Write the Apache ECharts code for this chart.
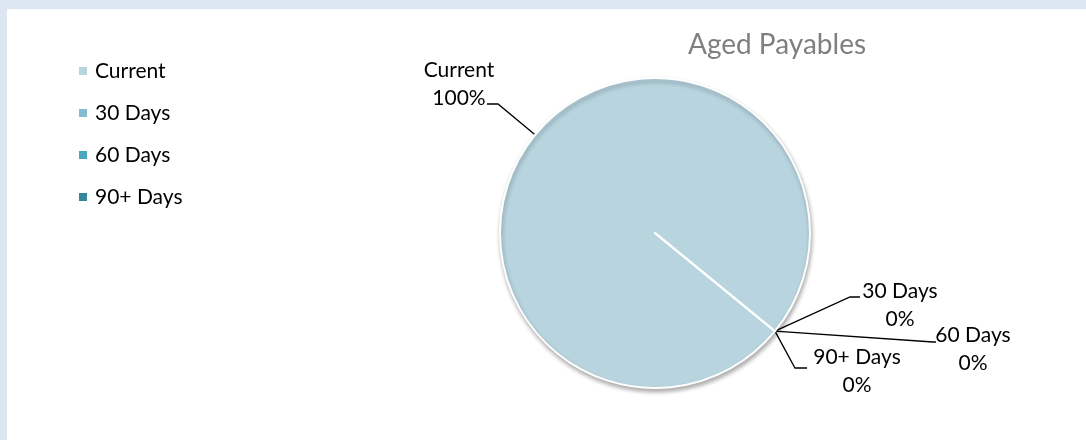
<!DOCTYPE html>
<html>
<head>
<meta charset="utf-8">
<script src="https://cdn.jsdelivr.net/npm/echarts@6/dist/echarts.min.js"></script>
<style>
  html, body { margin: 0; padding: 0; background: #dce6f1; }
  #chart { width: 1086px; height: 440px; }
</style>
</head>
<body>
<div id="chart"></div>
<script>
// Aged payables by bucket
const categories = ['Current', '30 Days', '60 Days', '90+ Days'];
const amounts = [100, 0, 0, 0];
const sliceColors = ['#b7d4df', '#83bcd0', '#4ba6bf', '#34879b'];
const chartTitle = 'Aged Payables';

const FONT = 'Lato, "Noto Sans", sans-serif';
const CX = 655, CY = 233, R = 155;

// Where each callout sits, relative to the pie centre: text centre and elbow points
const calloutSpots = [
  { text: [-196, -149], bends: [[-157, -129], [-168, -129]] },
  { text: [245, 72], bends: [[195, 64], [205, 64]] },
  { text: [318, 116], bends: [[278, 109], [281, 109]] },
  { text: [202, 138], bends: [[140, 135], [152, 135]] }
];

const chart = echarts.init(document.getElementById('chart'), null, { renderer: 'canvas' });

chart.setOption({
  animation: false,
  backgroundColor: '#dce6f1',
  color: sliceColors,
  graphic: [{
    type: 'rect',
    z: -10,
    shape: { x: 7, y: 9, width: 1086, height: 440 },
    style: { fill: '#ffffff' },
    silent: true
  }],
  title: {
    text: chartTitle,
    left: 777,
    top: 31,
    textAlign: 'center',
    padding: 0,
    textStyle: { fontFamily: FONT, fontSize: 28, fontWeight: 'normal', color: '#7f7f7f' }
  },
  legend: {
    orient: 'vertical',
    left: 77,
    top: 59,
    padding: 0,
    itemWidth: 10,
    itemHeight: 10,
    itemGap: 18,
    icon: 'rect',
    data: categories,
    textStyle: { fontFamily: FONT, fontSize: 21, lineHeight: 24, color: '#000000', padding: [0, 0, 0, 2] }
  },
  series: [{
    type: 'pie',
    center: [CX, CY],
    radius: R,
    startAngle: -39.3,
    clockwise: true,
    avoidLabelOverlap: false,
    percentPrecision: 0,
    minShowLabelAngle: 0,
    itemStyle: { borderColor: '#ffffff', borderWidth: 2 },
    label: {
      show: true,
      position: 'outside',
      formatter: '{b}\n{d}%',
      fontFamily: FONT,
      fontSize: 21,
      lineHeight: 28,
      color: '#000000',
      align: 'center'
    },
    labelLine: {
      show: true,
      lineStyle: { color: '#000000', width: 1.3 }
    },
    emphasis: { disabled: true },
    labelLayout: function (params) {
      const spot = calloutSpots[params.dataIndex];
      const pts = params.labelLinePoints;
      const start = pts && pts.length ? pts[0] : [CX, CY];
      const line = [start].concat(spot.bends.map(function (b) { return [CX + b[0], CY + b[1]]; }));
      return {
        x: CX + spot.text[0],
        y: CY + spot.text[1],
        align: 'center',
        verticalAlign: 'middle',
        labelLinePoints: line
      };
    },
    data: categories.map(function (name, i) {
      const item = { name: name, value: amounts[i] };
      if (i === 0) {
        item.itemStyle = {
          shadowBlur: 4,
          shadowOffsetX: 1,
          shadowOffsetY: 3,
          shadowColor: 'rgba(0,0,0,0.3)'
        };
      }
      return item;
    })
  }]
});
</script>
</body>
</html>
